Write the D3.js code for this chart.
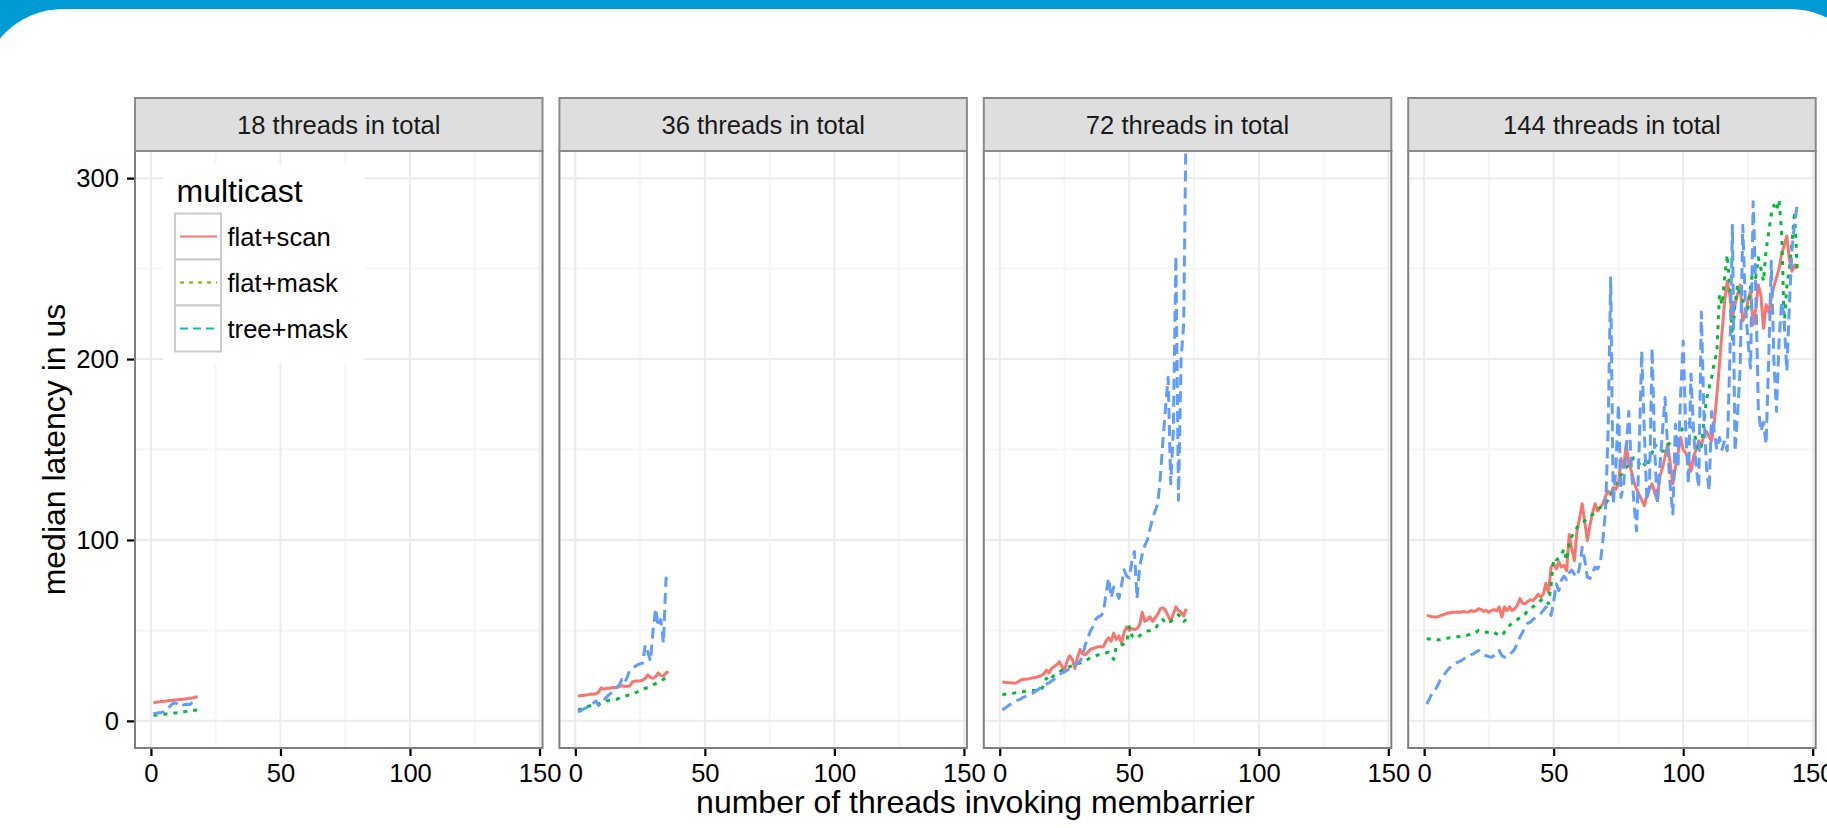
<!DOCTYPE html>
<html>
<head>
<meta charset="utf-8">
<script src="https://cdn.jsdelivr.net/npm/d3@7"></script>
<style>
html, body { margin: 0; padding: 0; background: #009ad4; overflow: hidden; }
svg { display: block; }
text { font-family: "Liberation Sans", Arial, Helvetica, sans-serif; }
</style>
</head>
<body>
<svg class="chart"></svg>
<script>

// ---- data (median latency in us, x = 1..N threads invoking membarrier) ----
var panelTotals = [18, 36, 72, 144];
var seriesNames = ["flat+scan", "flat+mask", "tree+mask"];
var xTicks = [0, 50, 100, 150];
var yTicks = [0, 100, 200, 300];

var scan18 = [10, 10.3, 10.5, 10.7, 10.9, 11, 11.2, 11.3, 11.5, 11.6, 11.8, 12, 12.1, 12.3, 12.5, 12.7, 13, 13.5];
var mask18 = [3, 3.2, 3.3, 3.5, 3.6, 3.8, 4, 4.2, 4.4, 4.5, 4.7, 5, 5.1, 5.3, 5.5, 5.7, 5.9, 6];
var tree18 = [4, 4.2, 4.5, 4.6, 5, 6, 7.5, 9, 10, 9.5, 8, 8.5, 9, 9.2, 9, 10, 10.5, 12];

var scan36 = [13.5, 14, 14, 14.3, 14.5, 14.8, 14.7, 15, 16, 18.3, 17.5, 18, 18, 18.3, 18.5, 18.3, 19, 19.5,
    19, 19.2, 19.3, 21.5, 22, 22, 22.2, 22.5, 23.5, 25.5, 24, 23.5, 24.5, 26.5, 25, 24.8, 26.5, 27.3];
var mask36 = [6, 6.5, 7, 7.5, 8, 8.5, 9, 9.5, 9.2, 10, 10.5, 11, 11.3, 11.6, 12, 12, 12.5, 13,
    13.5, 14, 14.5, 14.8, 15.5, 16, 16.8, 17.5, 18, 18.5, 19.3, 20, 20.5, 21, 22, 23, 23.5, 22.5];
var tree36 = [5, 5.5, 6.5, 7, 8, 9, 10, 11, 8.5, 10, 11.5, 13, 14.5, 15.5, 17, 18.5, 20, 23,
    21, 24, 28, 29, 30, 31, 31.5, 32, 42, 38, 33, 50, 62, 52, 56, 43, 79, 76];

var scan72 = [21.5, 21.3, 21.2, 21, 21, 20.8, 21.5, 22.5, 23, 23, 23.2, 23.5, 23.8, 24, 24.5, 25, 26, 28,
    26.5, 29, 30, 31, 32.7, 30, 28, 33, 36, 34, 29, 35, 39.5, 37, 36.5, 38, 39.5, 40,
    40.5, 41, 41, 41, 44, 46, 44, 48.5, 45, 47, 43, 49, 52, 50, 51, 50.5, 51, 53,
    60, 55, 56, 57.5, 55, 57, 59, 62, 62.5, 61, 58, 55, 59, 63, 61, 60, 58, 62];
var mask72 = [14.5, 14.7, 15, 15, 15.3, 15.5, 15.8, 16, 16.2, 16.3, 16.5, 16.7, 16.8, 17, 17, 17, 20, 23.5,
    22, 24, 25, 26, 27, 28, 28.2, 29, 30, 30.5, 31, 31.6, 32, 33, 33.5, 34, 35, 35.5,
    36, 36.5, 37, 37, 37.5, 38, 36, 34, 41, 41.5, 42, 42.5, 43, 52, 47, 46, 45.6, 47,
    48, 49, 49.6, 50, 50.8, 51, 53, 54, 56, 54, 55, 55, 56, 57, 58.7, 57, 55, 56];
var tree72 = [6, 7, 8, 9, 10, 11, 11.5, 12, 13, 13.5, 14, 14.7, 15.5, 16.5, 17.5, 18.5, 19.5, 20.3,
    21, 22, 23, 24.5, 25.5, 26.5, 27, 28, 29, 30, 31, 31.6, 33, 36, 42, 46, 49.6, 52,
    56, 57.5, 58, 60, 70, 79, 68, 74, 72, 67.7, 75, 83.5, 80, 79, 88, 93.6, 67.7, 85,
    92, 97, 100, 106, 112, 116, 120, 135, 155, 173, 190, 131, 160, 257, 122, 200, 219, 340];

var scan144 = [58.3, 58, 57.5, 57.4, 57.4, 58, 58.5, 59, 59.5, 59.8,
    60, 60, 60.2, 60, 60.5, 60.2, 60, 61, 60.5, 60.8,
    62, 61.5, 60.5, 61, 60, 61, 61.5, 60.8, 63, 57.4,
    63, 61, 63, 61, 62, 64, 67.6, 65, 64.8, 66,
    67, 66.5, 68, 70, 68.5, 70, 76, 71, 85, 86.8,
    84, 88, 85, 86, 83, 103, 95, 88.6, 105, 112,
    120, 110, 99.6, 108, 115, 120, 116, 118, 120, 124,
    127, 125, 129, 128, 131, 145, 140, 153, 142, 138,
    132, 128, 125, 122, 119, 125, 128, 131, 126, 122,
    135, 140, 146, 153, 142, 131, 140, 148, 156.6, 150,
    148, 145, 138, 146, 150, 154.8, 152, 158, 160, 157,
    154.8, 165, 180, 197, 215, 232, 243, 235, 222.8, 230,
    236, 241, 221, 225, 232, 237.5, 219, 228, 241, 235,
    217, 230, 226, 233.8, 240, 245, 250, 258, 263, 268,
    255, 248.5, 252, 250];
var mask144 = [45.4, 45.2, 45, 45, 44.8, 44.8, 45, 45.3, 45.6, 46,
    46, 46.2, 46.5, 46.6, 46.8, 47, 47.5, 48, 48.5, 49,
    50, 49.5, 49, 49, 49, 48.5, 49, 48, 47.5, 47,
    49, 51, 52.8, 54, 55, 56, 57, 57.4, 59, 61,
    62, 63, 64, 65, 66.5, 67.6, 66, 64.8, 75, 90,
    89, 90, 92, 95, 88.6, 98, 102, 104, 107, 108,
    109, 110.6, 112, 113, 114, 116, 117, 118, 119, 120,
    122, 125, 128, 131, 133, 136, 138, 140, 142, 144,
    145.6, 145, 142, 140, 142, 140, 145, 148, 153, 151,
    150, 149, 149.3, 152, 154, 156, 156.6, 158, 160, 162,
    163, 164, 165.8, 160, 155, 149, 152, 165, 178, 184,
    190, 198, 204, 235.7, 230, 245, 257.7, 240, 211, 230,
    241, 236, 232, 230, 228, 240, 250, 245, 256, 250,
    243, 260, 270, 280, 285, 282, 288, 270, 219, 240,
    250, 265, 281.6, 250];
var tree144 = [9.3, 12, 15, 16.7, 19, 22, 24, 26, 28, 29.5,
    31, 31.5, 32.5, 33, 34, 35, 35.2, 36.5, 37, 38,
    38.9, 38, 36.5, 36, 35.5, 35.2, 36, 37, 38.9, 36,
    35.2, 35.2, 37, 38, 39.8, 43, 46.3, 49, 52, 54,
    54.6, 56, 57, 58, 59.3, 61, 63, 62, 58.3, 66,
    75.7, 72, 77.8, 80, 78, 82, 83.3, 81, 79.6, 85,
    96, 89, 79.4, 78.7, 82, 85, 84, 87, 100, 116,
    160, 244.9, 120, 140, 175, 123.5, 130, 150, 171, 140,
    120, 105, 150, 204.4, 160, 121.8, 130, 206, 150, 120,
    140, 160, 178.7, 150, 130, 114.3, 164, 140, 180, 210,
    160, 131, 191.7, 160, 140, 129, 226, 170, 140, 127.2,
    171, 160, 150, 156.6, 150, 155, 149.3, 200, 274, 149,
    170, 195, 274, 230, 210, 195, 287, 240, 173, 160,
    165, 153, 200, 254, 200, 171, 210, 232, 220, 193.4,
    230, 261, 275, 285];

var panelSeries = [
    [scan18, mask18, tree18],
    [scan36, mask36, tree36],
    [scan72, mask72, tree72],
    [scan144, mask144, tree144]
];

function show() {

    'use strict';

    var width = 1827, height = 828;
    var panelLeft = 135, panelTop = 151, panelW = 407.5, panelH = 597, panelStep = 424.4;
    var stripTop = 98;

    var lineColors = ["#F8766D", "#00BA38", "#619CFF"];
    var keyColors = ["#F8766D", "#7CAE00", "#00BFC4"];
    var lineDash = [null, "4,6", "11,6"];
    var keyDash = [null, "4,5", "8,5"];

    var svg = d3.select(".chart")
        .attr("width", width)
        .attr("height", height);

    // white slide card on the blue background
    svg.append("rect")
        .attr("x", -19).attr("y", 9)
        .attr("width", 1891).attr("height", 950)
        .attr("rx", 82).attr("ry", 82)
        .style("fill", "#ffffff");

    var x = d3.scaleLinear().domain([-6.15, 151.15]).range([0, panelW]);
    var y = d3.scaleLinear().domain([-15, 315]).range([panelH, 0]);

    var line = d3.line()
        .x(function(d, i) { return x(i + 1); })
        .y(function(d) { return y(d); });

    panelTotals.forEach(function(total, p) {
        var g = svg.append("g")
            .attr("transform", "translate(" + (panelLeft + p * panelStep) + "," + panelTop + ")");

        g.append("clipPath").attr("id", "clip" + p)
            .append("rect").attr("width", panelW).attr("height", panelH);

        g.append("rect")
            .attr("width", panelW).attr("height", panelH)
            .style("fill", "#ffffff");

        // minor grid
        [25, 75, 125].forEach(function(v) {
            g.append("line").attr("x1", x(v)).attr("x2", x(v)).attr("y1", 0).attr("y2", panelH)
                .style("stroke", "#f6f6f6").style("stroke-width", 2);
        });
        [50, 150, 250].forEach(function(v) {
            g.append("line").attr("y1", y(v)).attr("y2", y(v)).attr("x1", 0).attr("x2", panelW)
                .style("stroke", "#f6f6f6").style("stroke-width", 2);
        });
        // major grid
        xTicks.forEach(function(v) {
            g.append("line").attr("x1", x(v)).attr("x2", x(v)).attr("y1", 0).attr("y2", panelH)
                .style("stroke", "#ebebeb").style("stroke-width", 2);
        });
        yTicks.forEach(function(v) {
            g.append("line").attr("y1", y(v)).attr("y2", y(v)).attr("x1", 0).attr("x2", panelW)
                .style("stroke", "#ebebeb").style("stroke-width", 2);
        });

        var plot = g.append("g").attr("clip-path", "url(#clip" + p + ")");
        panelSeries[p].forEach(function(values, s) {
            plot.append("path")
                .datum(values)
                .attr("d", line)
                .style("fill", "none")
                .style("stroke", lineColors[s])
                .style("stroke-width", 3)
                .style("stroke-linejoin", "round")
                .style("stroke-dasharray", lineDash[s]);
        });

        g.append("rect")
            .attr("width", panelW).attr("height", panelH)
            .style("fill", "none").style("stroke", "#7f7f7f").style("stroke-width", 2);

        // strip
        g.append("rect")
            .attr("y", stripTop - panelTop).attr("width", panelW).attr("height", panelTop - stripTop)
            .style("fill", "#dedede").style("stroke", "#8a8a8a").style("stroke-width", 2);
        g.append("text")
            .attr("x", panelW / 2).attr("y", 134 - panelTop)
            .attr("text-anchor", "middle")
            .style("font-size", "25.6px").style("fill", "#1a1a1a")
            .text(total + " threads in total");

        // x axis
        var xAxis = d3.axisBottom(x).tickValues(xTicks).tickSize(7).tickPadding(8);
        var xa = g.append("g").attr("transform", "translate(0," + (panelH + 1) + ")").call(xAxis);
        xa.select(".domain").remove();
        xa.selectAll("line").style("stroke", "#000").style("stroke-width", 2.2);
        xa.selectAll("text").style("font-size", "25.6px").style("fill", "#000")
            .style("font-family", "\"Liberation Sans\", Arial, sans-serif");

        if (p === 0) {
            var yAxis = d3.axisLeft(y).tickValues(yTicks).tickSize(7).tickPadding(8);
            var ya = g.append("g").attr("transform", "translate(-1,0)").call(yAxis);
            ya.select(".domain").remove();
            ya.selectAll("line").style("stroke", "#000").style("stroke-width", 2.2);
            ya.selectAll("text").style("font-size", "25.6px").style("fill", "#000")
                .style("font-family", "\"Liberation Sans\", Arial, sans-serif");
        }
    });

    // axis titles
    svg.append("text")
        .attr("x", panelLeft + (3 * panelStep + panelW) / 2).attr("y", 813)
        .attr("text-anchor", "middle")
        .style("font-size", "32px")
        .text("number of threads invoking membarrier");

    svg.append("text")
        .attr("transform", "translate(65," + (panelTop + panelH / 2) + ") rotate(-90)")
        .attr("text-anchor", "middle")
        .style("font-size", "32px")
        .text("median latency in us");

    // legend
    var legend = svg.append("g").attr("transform", "translate(163,164)");
    legend.append("rect").attr("width", 201).attr("height", 200).style("fill", "#ffffff");
    legend.append("text").attr("x", 13.5).attr("y", 38)
        .style("font-size", "32px").text("multicast");

    var keys = legend.selectAll(".key").data(seriesNames).enter().append("g")
        .attr("class", "key")
        .attr("transform", function(d, i) { return "translate(12," + (49.5 + i * 46) + ")"; });

    keys.append("rect")
        .attr("width", 46).attr("height", 46)
        .style("fill", "#ffffff").style("stroke", "#cccccc").style("stroke-width", 2);
    keys.append("line")
        .attr("x1", 5).attr("x2", 42).attr("y1", 23).attr("y2", 23)
        .style("stroke", function(d, i) { return keyColors[i]; })
        .style("stroke-width", 2)
        .style("stroke-dasharray", function(d, i) { return keyDash[i]; });
    keys.append("text")
        .attr("x", 52.5).attr("y", 32)
        .style("font-size", "25.6px")
        .text(function(d) { return d; });
}

show();
</script>
</body>
</html>
